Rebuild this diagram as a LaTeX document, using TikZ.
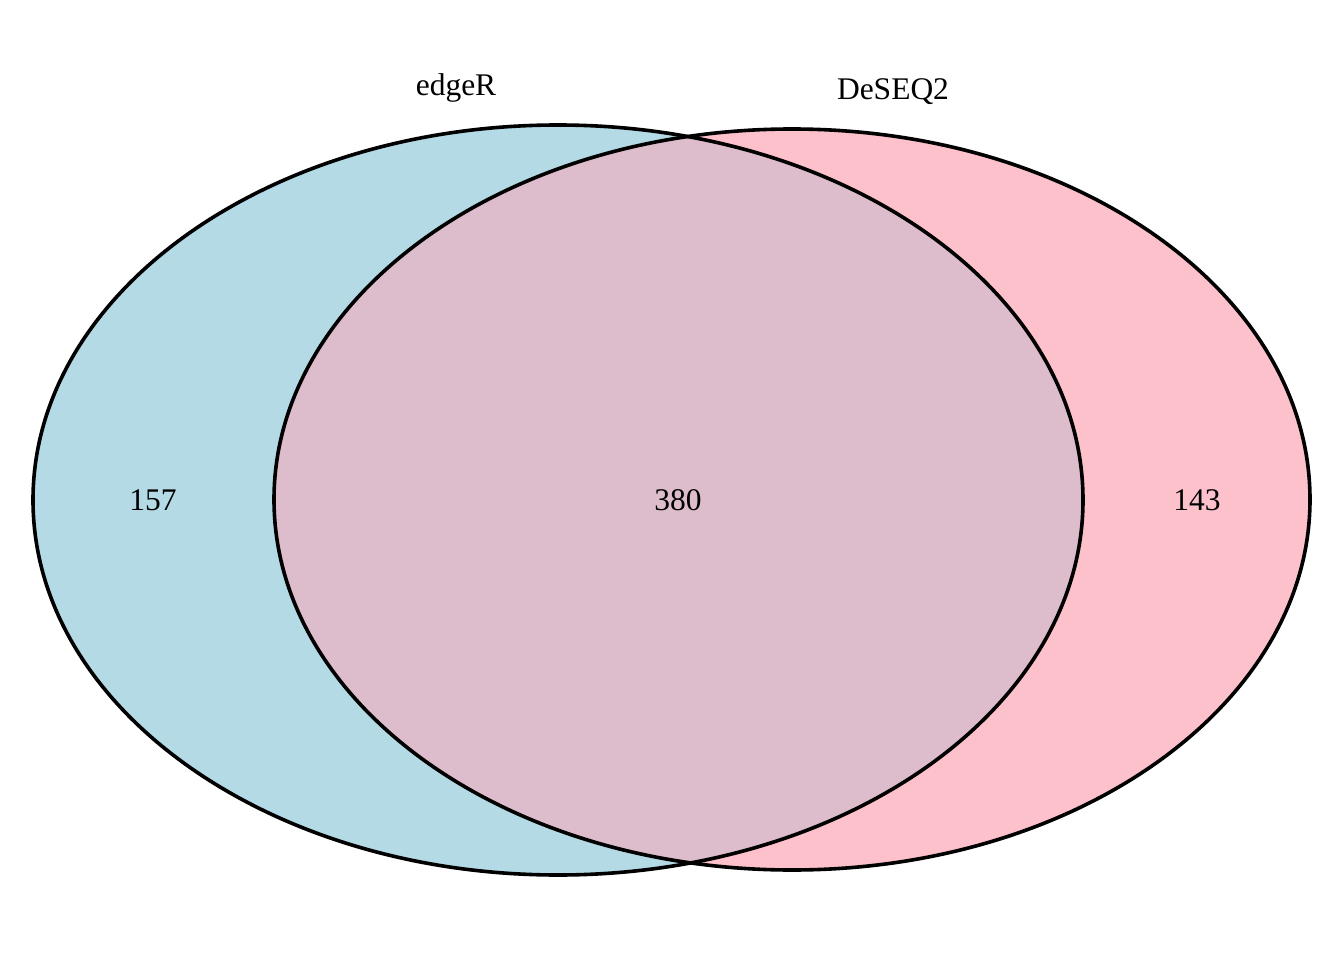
\documentclass[tikz,border=0pt]{standalone}
\usepackage{fontspec}
\setmainfont{Liberation Serif}
\definecolor{lblue}{HTML}{B4DAE5}
\definecolor{lpink}{HTML}{FDC1CC}
\definecolor{lover}{HTML}{DDBCCB}
\begin{document}
\begin{tikzpicture}[x=1pt,y=-1pt,
  setline/.style={draw=black,line width=3.6pt},
  lbl/.style={font=\fontsize{31.5}{36}\selectfont,inner sep=0pt}]
\useasboundingbox (0,0) rectangle (1344,960);
\coordinate (cl) at (558,500);
\coordinate (cr) at (792,499.5);
\fill[lblue] (cl) ellipse [x radius=525, y radius=375];
\fill[lpink] (cr) ellipse [x radius=518, y radius=370.5];
\begin{scope}
  \clip (cl) ellipse [x radius=525, y radius=375];
  \fill[lover] (cr) ellipse [x radius=518, y radius=370.5];
\end{scope}
\draw[setline] (cl) ellipse [x radius=525, y radius=375];
\draw[setline] (cr) ellipse [x radius=518, y radius=370.5];
\node[lbl] (nA) at (456,88) {edgeR};
\node[lbl] (nB) at (893,92) {DeSEQ2};
\node[lbl] (n1) at (153,500) {157};
\node[lbl] (n2) at (678,500) {380};
\node[lbl] (n3) at (1197,500) {143};
\end{tikzpicture}
\end{document}
